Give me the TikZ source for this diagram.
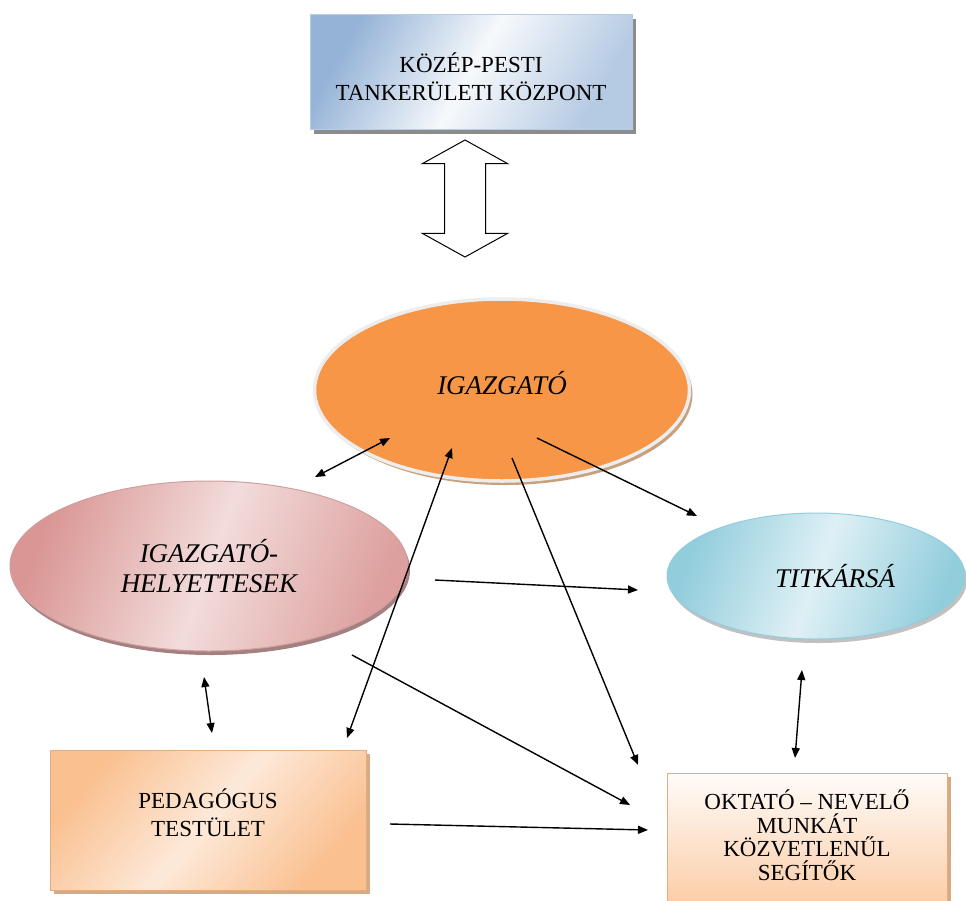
\documentclass[tikz,border=0pt]{standalone}
\usepackage{fontspec}
\setmainfont{Liberation Serif}
\usepackage{xcolor}
\usetikzlibrary{positioning,shapes,shapes.arrows,arrows.meta,shadows,calc}
\definecolor{tankblue}{RGB}{149,179,215}
\definecolor{tankline}{RGB}{184,204,228}
\definecolor{igorange}{RGB}{247,150,70}
\definecolor{igshadow}{RGB}{200,160,124}
\definecolor{helypink}{RGB}{217,150,148}
\definecolor{helylight}{RGB}{242,220,219}
\definecolor{titkblue}{RGB}{146,205,220}
\definecolor{titklight}{RGB}{222,240,245}
\definecolor{peach}{RGB}{250,192,144}
\definecolor{peachlight}{RGB}{253,233,217}
\definecolor{peachshadow}{RGB}{214,170,130}

\begin{document}
\begin{tikzpicture}[x=1pt, y=-1pt]
    % Define styles
    \tikzset{
      box/.style={rectangle, text centered, align=center, inner sep=0pt},
      oval/.style={ellipse, text centered, align=center, inner sep=0pt},
      boxtext/.style={font=\fontsize{23}{28}\selectfont},
      ovaltext/.style={font=\fontsize{27}{30}\selectfont\itshape},
      link/.style={line width=1.4pt, -{Triangle[length=10pt,width=8pt]}},
      twolink/.style={line width=1.4pt, {Triangle[length=10pt,width=8pt]}-{Triangle[length=10pt,width=8pt]}}
    }
    \useasboundingbox (0,0) rectangle (966,900);

    % Top box and hollow arrow
    \node [box, boxtext, minimum width=322pt, minimum height=115pt, draw=tankline, line width=1pt,
           left color=tankblue, right color=tankblue!70, middle color=white!92!tankblue, shading angle=60,
           drop shadow={shadow xshift=4pt, shadow yshift=-4pt, fill=black!45, opacity=1}]
          (kozpont) at (471,72) {\rule{0pt}{29pt}KÖZÉP-PESTI\\TANKERÜLETI KÖZPONT};
    \node [double arrow, rotate=90, draw=black, line width=1pt, fill=white,
           minimum height=117pt, inner xsep=0pt, inner ysep=20pt, double arrow head extend=22pt,
           double arrow tip angle=122]
          (kapcsolat) at (465,198.5) {};

    % Ovals
    \node [oval, ovaltext, minimum width=375pt, minimum height=182pt, fill=igorange,
           draw=white!93!black, line width=3.5pt,
           drop shadow={shadow xshift=3pt, shadow yshift=-4pt, fill=igshadow, opacity=1}]
          (igazgato) at (502,390) {IGAZGATÓ\\[-16pt]};
    \node [oval, ovaltext, minimum width=398pt, minimum height=170pt, draw=helypink!90!black!80, line width=1pt,
           left color=helypink, right color=helypink!90, middle color=helylight, shading angle=70,
           drop shadow={shadow xshift=2pt, shadow yshift=-4pt, fill=black!35!helypink, opacity=0.8}]
          (helyettes) at (209,566) {IGAZGATÓ-\\HELYETTESEK};
    \node [oval, ovaltext, minimum width=298pt, minimum height=126pt, draw=titkblue, line width=1pt,
           left color=titkblue, right color=titkblue, middle color=titklight, shading angle=70,
           drop shadow={shadow xshift=2pt, shadow yshift=-4pt, fill=black!30, opacity=0.8}]
          (titkarsag) at (816,576) {\hspace*{38pt}TITKÁRSÁ};

    % Bottom boxes
    \node [box, boxtext, minimum width=316pt, minimum height=140pt, draw=peach!90!black, line width=1pt,
           left color=peach, right color=peach, middle color=peachlight, shading angle=50,
           drop shadow={shadow xshift=4pt, shadow yshift=-4pt, fill=peachshadow, opacity=1}]
          (pedagogus) at (208,820) {PEDAGÓGUS\\TESTÜLET\\[-14pt]};
    \node [box, font=\fontsize{23}{23.5}\selectfont, minimum width=280pt, minimum height=140pt,
           draw=peach!90!black, line width=1pt,
           top color=white!85!peachlight, bottom color=peach!85,
           drop shadow={shadow xshift=4pt, shadow yshift=-4pt, fill=peachshadow, opacity=1}]
          (oktato) at (807,843) {OKTATÓ -- NEVELŐ\\MUNKÁT\\KÖZVETLENŰL\\SEGÍTŐK\\[-7.5pt]};

    % Connector ends
    \coordinate (hely-ig) at (315,477);
    \coordinate (ig-hely) at (390,438);
    \coordinate (ped-ig) at (347,738);
    \coordinate (ig-ped) at (452,448);
    \coordinate (ig-okt) at (512,458);
    \coordinate (okt-ig) at (638,765);
    \coordinate (ig-titk) at (537,438);
    \coordinate (titk-ig) at (697,516);
    \coordinate (hely-titk) at (435,580);
    \coordinate (titk-hely) at (638,590);
    \coordinate (hely-okt) at (352,655);
    \coordinate (okt-hely) at (630,805);
    \coordinate (hely-ped) at (204,677);
    \coordinate (ped-hely) at (212,733);
    \coordinate (titk-okt) at (802,670);
    \coordinate (okt-titk) at (795,758);
    \coordinate (ped-okt) at (390,824);
    \coordinate (okt-ped) at (648,830);

    % Arrows
    \draw [twolink] (hely-ig) -- (ig-hely);
    \draw [twolink] (ped-ig) -- (ig-ped);
    \draw [link] (ig-okt) -- (okt-ig);
    \draw [link] (ig-titk) -- (titk-ig);
    \draw [link] (hely-titk) -- (titk-hely);
    \draw [link] (hely-okt) -- (okt-hely);
    \draw [twolink] (hely-ped) -- (ped-hely);
    \draw [twolink] (titk-okt) -- (okt-titk);
    \draw [link] (ped-okt) -- (okt-ped);
\end{tikzpicture}
\end{document}
